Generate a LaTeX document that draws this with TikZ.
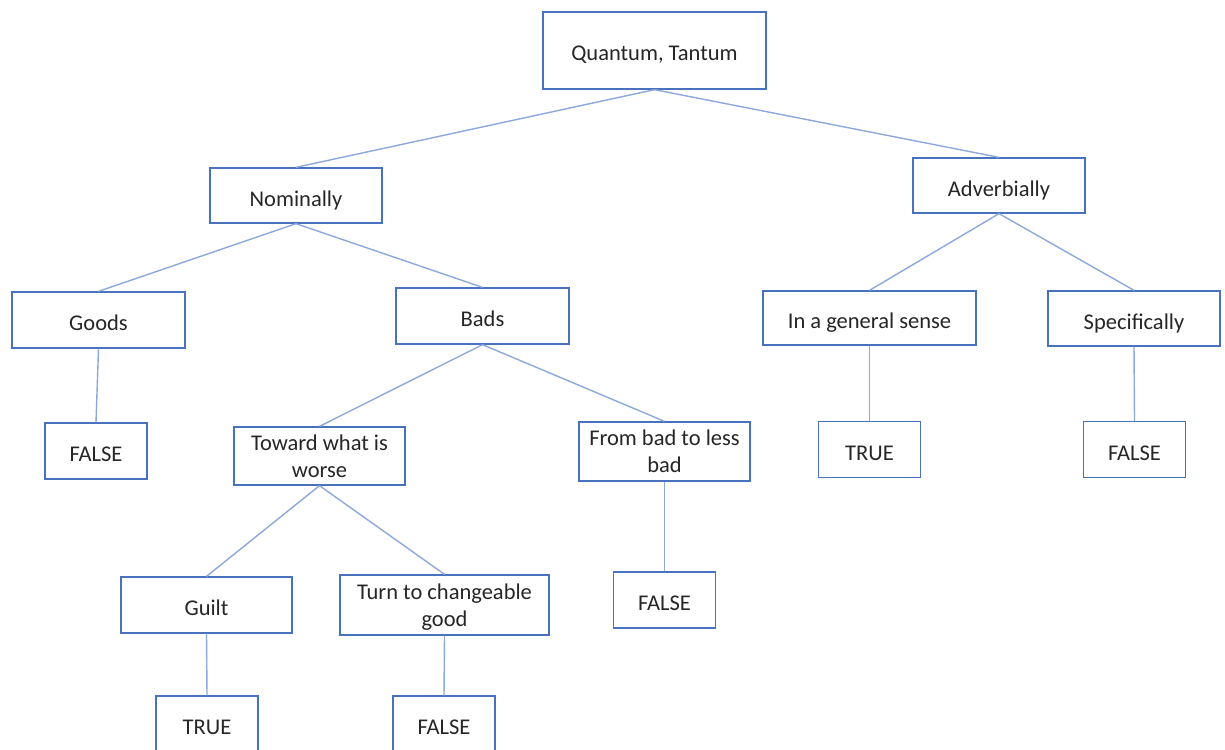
\documentclass[tikz,border=0pt]{standalone}
\usepackage{fontspec}
\setmainfont{Carlito}
\usetikzlibrary{positioning}
\definecolor{boxBlue}{RGB}{72,114,190}
\definecolor{edgeBlue}{RGB}{140,168,220}
\definecolor{txtGray}{RGB}{38,38,38}
\tikzset{
    treeBox/.style={rectangle, draw=boxBlue, line width=1.3pt, fill=white, inner sep=0pt, align=center, text=txtGray, font=\fontsize{22.5}{27}\selectfont},
    oneLine/.style={treeBox, text height=21pt, text depth=0pt},
    twoLine/.style={treeBox, text depth=-1pt},
    leafBox/.style={oneLine, minimum width=102pt, minimum height=56pt},
    treeEdge/.style={draw=edgeBlue, line width=1.4pt},
}
\newcommand{\drawBranch}[2]{
    \draw[treeEdge] (#1.south) -- (#2.north);
}
\begin{document}
\begin{tikzpicture}[x=1pt, y=-1pt]
        \useasboundingbox (0, 0) rectangle (1225, 749);

        \node[oneLine, minimum width=223pt, minimum height=77pt] (root) at (654.5, 50.5) {Quantum, Tantum};
        \node[oneLine, minimum width=172pt, minimum height=55pt] (nom) at (296, 195.5) {Nominally};
        \node[oneLine, minimum width=172pt, minimum height=55pt] (adv) at (999, 185.5) {Adverbially};

        \node[oneLine, minimum width=173pt, minimum height=56pt] (goods) at (98.5, 320) {Goods};
        \node[oneLine, minimum width=173pt, minimum height=56pt] (bads) at (482.5, 316) {Bads};
        \node[oneLine, minimum width=213pt, minimum height=54pt] (general) at (869.5, 318) {In a general sense};
        \node[oneLine, minimum width=172pt, minimum height=55pt] (specific) at (1134, 318.5) {Specifically};

        \node[leafBox] (goodsF) at (96, 451) {FALSE};
        \node[twoLine, minimum width=171pt, minimum height=58pt] (worse) at (319.5, 456) {Toward what is\\worse};
        \node[twoLine, minimum width=171pt, minimum height=59pt] (lessbad) at (664.5, 451.5) {From bad to less\\bad};
        \node[leafBox] (generalT) at (869.5, 449.5) {TRUE};
        \node[leafBox] (specificF) at (1134.5, 449.5) {FALSE};

        \node[oneLine, minimum width=171pt, minimum height=56pt] (guilt) at (206.5, 605) {Guilt};
        \node[twoLine, minimum width=209pt, minimum height=60pt] (turn) at (444.5, 605) {Turn to changeable\\good};
        \node[leafBox] (lessbadF) at (664.5, 600) {FALSE};

        \node[leafBox] (guiltT) at (207, 724) {TRUE};
        \node[leafBox] (turnF) at (444, 724) {FALSE};

        \drawBranch{root}{nom}
        \drawBranch{root}{adv}
        \drawBranch{nom}{goods}
        \drawBranch{nom}{bads}
        \drawBranch{adv}{general}
        \drawBranch{adv}{specific}
        \drawBranch{goods}{goodsF}
        \drawBranch{bads}{worse}
        \drawBranch{bads}{lessbad}
        \drawBranch{general}{generalT}
        \drawBranch{specific}{specificF}
        \drawBranch{worse}{guilt}
        \drawBranch{worse}{turn}
        \drawBranch{lessbad}{lessbadF}
        \drawBranch{guilt}{guiltT}
        \drawBranch{turn}{turnF}

    \end{tikzpicture}
\end{document}
